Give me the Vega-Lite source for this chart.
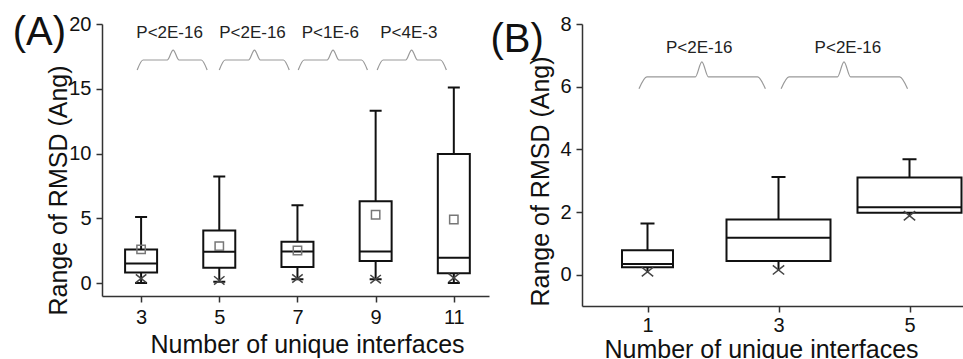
{
  "$schema": "https://vega.github.io/schema/vega-lite/v6.json",
  "padding": {"left": 12, "top": 12, "right": 0, "bottom": 0},
  "bounds": "flush",
  "spacing": 93,
  "background": "white",
  "config": {
    "font": "Liberation Sans",
    "view": {"stroke": null},
    "axis": {
      "grid": false, "domainColor": "#333", "domainWidth": 1.5, "tickColor": "#333", "tickWidth": 1.5,
      "tickSize": 6, "labelFontSize": 20, "labelColor": "#111", "titleFontSize": 25,
      "titleFontWeight": "normal", "titleColor": "#111", "labelFont": "Liberation Sans", "titleFont": "Liberation Sans"
    }
  },
  "datasets": {
    "boxA": [
      {"n": 3, "lo": 0.0, "q1": 0.82, "med": 1.51, "q3": 2.59, "hi": 5.1, "mean": 2.6, "p1": 0.35},
      {"n": 5, "lo": 0.1, "q1": 1.18, "med": 2.41, "q3": 4.05, "hi": 8.23, "mean": 2.85, "p1": 0.2},
      {"n": 7, "lo": 0.3, "q1": 1.23, "med": 2.44, "q3": 3.18, "hi": 6.0, "mean": 2.51, "p1": 0.35},
      {"n": 9, "lo": 0.3, "q1": 1.7, "med": 2.44, "q3": 6.32, "hi": 13.3, "mean": 5.27, "p1": 0.3},
      {"n": 11, "lo": 0.0, "q1": 0.75, "med": 1.96, "q3": 9.97, "hi": 15.1, "mean": 4.91, "p1": 0.4}
    ],
    "boxB": [
      {"n": 1, "lo": 0.09, "q1": 0.24, "med": 0.34, "q3": 0.78, "hi": 1.63, "p1": 0.09},
      {"n": 3, "lo": 0.15, "q1": 0.44, "med": 1.18, "q3": 1.76, "hi": 3.12, "p1": 0.15},
      {"n": 5, "lo": 1.87, "q1": 1.98, "med": 2.15, "q3": 3.1, "hi": 3.68, "p1": 1.88}
    ],
    "braceA": [
      {"b": 1, "o": 1, "x": 2.90, "y": 16.45}, {"b": 1, "o": 2, "x": 3.05, "y": 17.22}, {"b": 1, "o": 3, "x": 3.67, "y": 17.22}, {"b": 1, "o": 4, "x": 3.82, "y": 17.99}, {"b": 1, "o": 5, "x": 3.97, "y": 17.22}, {"b": 1, "o": 6, "x": 4.54, "y": 17.22}, {"b": 1, "o": 7, "x": 4.69, "y": 16.45},
      {"b": 2, "o": 1, "x": 5.00, "y": 16.45}, {"b": 2, "o": 2, "x": 5.15, "y": 17.22}, {"b": 2, "o": 3, "x": 5.75, "y": 17.22}, {"b": 2, "o": 4, "x": 5.90, "y": 17.99}, {"b": 2, "o": 5, "x": 6.05, "y": 17.22}, {"b": 2, "o": 6, "x": 6.64, "y": 17.22}, {"b": 2, "o": 7, "x": 6.79, "y": 16.45},
      {"b": 3, "o": 1, "x": 7.02, "y": 16.45}, {"b": 3, "o": 2, "x": 7.17, "y": 17.22}, {"b": 3, "o": 3, "x": 7.76, "y": 17.22}, {"b": 3, "o": 4, "x": 7.91, "y": 17.99}, {"b": 3, "o": 5, "x": 8.06, "y": 17.22}, {"b": 3, "o": 6, "x": 8.64, "y": 17.22}, {"b": 3, "o": 7, "x": 8.79, "y": 16.45},
      {"b": 4, "o": 1, "x": 9.04, "y": 16.45}, {"b": 4, "o": 2, "x": 9.19, "y": 17.22}, {"b": 4, "o": 3, "x": 9.77, "y": 17.22}, {"b": 4, "o": 4, "x": 9.92, "y": 17.99}, {"b": 4, "o": 5, "x": 10.07, "y": 17.22}, {"b": 4, "o": 6, "x": 10.66, "y": 17.22}, {"b": 4, "o": 7, "x": 10.81, "y": 16.45}
    ],
    "braceB": [
      {"b": 1, "o": 1, "x": 0.87, "y": 5.93}, {"b": 1, "o": 2, "x": 0.99, "y": 6.31}, {"b": 1, "o": 3, "x": 1.73, "y": 6.31}, {"b": 1, "o": 4, "x": 1.83, "y": 6.79}, {"b": 1, "o": 5, "x": 1.93, "y": 6.31}, {"b": 1, "o": 6, "x": 2.68, "y": 6.31}, {"b": 1, "o": 7, "x": 2.80, "y": 5.93},
      {"b": 2, "o": 1, "x": 3.04, "y": 5.93}, {"b": 2, "o": 2, "x": 3.16, "y": 6.31}, {"b": 2, "o": 3, "x": 3.90, "y": 6.31}, {"b": 2, "o": 4, "x": 4.00, "y": 6.79}, {"b": 2, "o": 5, "x": 4.10, "y": 6.31}, {"b": 2, "o": 6, "x": 4.85, "y": 6.31}, {"b": 2, "o": 7, "x": 4.97, "y": 5.93}
    ],
    "notesA": [
      {"t": "P<2E-16", "x": 3.73, "y": 19.28},
      {"t": "P<2E-16", "x": 5.85, "y": 19.28},
      {"t": "P<1E-6", "x": 7.84, "y": 19.28},
      {"t": "P<4E-3", "x": 9.85, "y": 19.28}
    ],
    "notesB": [
      {"t": "P<2E-16", "x": 1.79, "y": 7.22},
      {"t": "P<2E-16", "x": 4.06, "y": 7.22}
    ],
    "panelA": [{"t": "(A)", "x": 0.40, "y": 19.34}],
    "panelB": [{"t": "(B)", "x": -0.99, "y": 7.49}]
  },
  "hconcat": [
    {
      "width": 387, "height": 272,
      "layer": [
        {
          "data": {"name": "boxA"},
          "mark": {"type": "rule", "strokeWidth": 2, "color": "#111"},
          "encoding": {
            "x": {"field": "n", "type": "quantitative",
              "scale": {"domain": [2, 11.9], "nice": false, "zero": false, "padding": 0},
              "axis": {"values": [3, 5, 7, 9, 11], "format": "d", "title": "Number of unique interfaces", "labelPadding": 5, "titleX": 205, "titleY": 56, "titleBaseline": "alphabetic", "labelFlush": false}},
            "y": {"field": "lo", "type": "quantitative",
              "scale": {"domain": [-1, 20], "nice": false, "zero": false},
              "axis": {"values": [0, 2.5, 5, 7.5, 10, 12.5, 15, 17.5, 20], "labelExpr": "datum.value % 5 == 0 ? datum.label : ''",
                "tickSize": {"condition": {"test": "datum.value % 5 != 0", "value": 3}, "value": 6},
                "labelPadding": 5, "title": "Range of RMSD (Ang)", "titleX": -31, "titleY": 166, "titleBaseline": "bottom"}},
            "y2": {"field": "hi"}
          }
        },
        {
          "data": {"name": "boxA"},
          "mark": {"type": "bar", "size": 32, "fill": "white", "stroke": "#111", "strokeWidth": 2},
          "encoding": {"x": {"field": "n", "type": "quantitative"}, "y": {"field": "q1", "type": "quantitative"}, "y2": {"field": "q3"}}
        },
        {
          "data": {"name": "boxA"},
          "mark": {"type": "bar", "size": 32, "fill": "white", "stroke": "#111", "strokeWidth": 2},
          "encoding": {"x": {"field": "n", "type": "quantitative"}, "y": {"field": "med", "type": "quantitative"}, "y2": {"field": "med"}}
        },
        {
          "data": {"name": "boxA"},
          "mark": {"type": "bar", "size": 12, "fill": "white", "stroke": "#111", "strokeWidth": 2},
          "encoding": {"x": {"field": "n", "type": "quantitative"}, "y": {"field": "hi", "type": "quantitative"}, "y2": {"field": "hi"}}
        },
        {
          "data": {"name": "boxA"},
          "mark": {"type": "bar", "size": 12, "fill": "white", "stroke": "#111", "strokeWidth": 2},
          "encoding": {"x": {"field": "n", "type": "quantitative"}, "y": {"field": "lo", "type": "quantitative"}, "y2": {"field": "lo"}}
        },
        {
          "data": {"name": "boxA"},
          "mark": {"type": "point", "shape": "square", "size": 70, "filled": false, "stroke": "#777", "strokeWidth": 1.5, "opacity": 1},
          "encoding": {"x": {"field": "n", "type": "quantitative"}, "y": {"field": "mean", "type": "quantitative"}}
        },
        {
          "data": {"name": "boxA"},
          "mark": {"type": "point", "shape": "M-1,-0.8L1,0.8M-1,0.8L1,-0.8", "size": 110, "filled": false, "stroke": "#444", "strokeWidth": 1.5, "opacity": 1},
          "encoding": {"x": {"field": "n", "type": "quantitative"}, "y": {"field": "p1", "type": "quantitative"}}
        },
        {
          "data": {"name": "braceA"},
          "mark": {"type": "line", "interpolate": "monotone", "color": "#999", "strokeWidth": 1.2},
          "encoding": {"x": {"field": "x", "type": "quantitative"}, "y": {"field": "y", "type": "quantitative"}, "detail": {"field": "b"}, "order": {"field": "o"}}
        },
        {
          "data": {"name": "notesA"},
          "mark": {"type": "text", "fontSize": 17, "color": "#222", "baseline": "middle", "align": "center"},
          "encoding": {"x": {"field": "x", "type": "quantitative"}, "y": {"field": "y", "type": "quantitative"}, "text": {"field": "t"}}
        },
        {
          "data": {"name": "panelA"},
          "mark": {"type": "text", "fontSize": 40, "color": "#111", "baseline": "middle", "align": "center"},
          "encoding": {"x": {"field": "x", "type": "quantitative"}, "y": {"field": "y", "type": "quantitative"}, "text": {"field": "t"}}
        }
      ]
    },
    {
      "width": 393, "height": 282,
      "layer": [
        {
          "data": {"name": "boxB"},
          "mark": {"type": "rule", "strokeWidth": 2, "color": "#111"},
          "encoding": {
            "x": {"field": "n", "type": "quantitative",
              "scale": {"domain": [0, 6], "nice": false, "zero": false, "padding": 0},
              "axis": {"values": [1, 3, 5], "format": "d", "title": "Number of unique interfaces", "labelPadding": 3, "titleX": 179, "titleY": 51, "titleBaseline": "alphabetic", "labelFlush": false}},
            "y": {"field": "lo", "type": "quantitative",
              "scale": {"domain": [-1, 8], "nice": false, "zero": false},
              "axis": {"values": [0, 1, 2, 3, 4, 5, 6, 7, 8], "labelExpr": "datum.value % 2 == 0 ? datum.label : ''",
                "tickSize": {"condition": {"test": "datum.value % 2 != 0", "value": 3}, "value": 6},
                "labelPadding": 5, "title": "Range of RMSD (Ang)", "titleX": -29, "titleY": 157, "titleBaseline": "bottom"}},
            "y2": {"field": "hi"}
          }
        },
        {
          "data": {"name": "boxB"},
          "transform": [{"filter": "datum.n == 1"}],
          "mark": {"type": "bar", "size": 51, "fill": "white", "stroke": "#111", "strokeWidth": 2},
          "encoding": {"x": {"field": "n", "type": "quantitative"}, "y": {"field": "q1", "type": "quantitative"}, "y2": {"field": "q3"}}
        },
        {
          "data": {"name": "boxB"},
          "transform": [{"filter": "datum.n != 1"}],
          "mark": {"type": "bar", "size": 104, "fill": "white", "stroke": "#111", "strokeWidth": 2},
          "encoding": {"x": {"field": "n", "type": "quantitative"}, "y": {"field": "q1", "type": "quantitative"}, "y2": {"field": "q3"}}
        },
        {
          "data": {"name": "boxB"},
          "transform": [{"filter": "datum.n == 1"}],
          "mark": {"type": "bar", "size": 51, "fill": "white", "stroke": "#111", "strokeWidth": 2},
          "encoding": {"x": {"field": "n", "type": "quantitative"}, "y": {"field": "med", "type": "quantitative"}, "y2": {"field": "med"}}
        },
        {
          "data": {"name": "boxB"},
          "transform": [{"filter": "datum.n != 1"}],
          "mark": {"type": "bar", "size": 104, "fill": "white", "stroke": "#111", "strokeWidth": 2},
          "encoding": {"x": {"field": "n", "type": "quantitative"}, "y": {"field": "med", "type": "quantitative"}, "y2": {"field": "med"}}
        },
        {
          "data": {"name": "boxB"},
          "mark": {"type": "bar", "size": 14, "fill": "white", "stroke": "#111", "strokeWidth": 2},
          "encoding": {"x": {"field": "n", "type": "quantitative"}, "y": {"field": "hi", "type": "quantitative"}, "y2": {"field": "hi"}}
        },
        {
          "data": {"name": "boxB"},
          "mark": {"type": "point", "shape": "M-1,-0.8L1,0.8M-1,0.8L1,-0.8", "size": 130, "filled": false, "stroke": "#444", "strokeWidth": 1.5, "opacity": 1},
          "encoding": {"x": {"field": "n", "type": "quantitative"}, "y": {"field": "p1", "type": "quantitative"}}
        },
        {
          "data": {"name": "braceB"},
          "mark": {"type": "line", "interpolate": "monotone", "color": "#999", "strokeWidth": 1.2},
          "encoding": {"x": {"field": "x", "type": "quantitative"}, "y": {"field": "y", "type": "quantitative"}, "detail": {"field": "b"}, "order": {"field": "o"}}
        },
        {
          "data": {"name": "notesB"},
          "mark": {"type": "text", "fontSize": 17, "color": "#222", "baseline": "middle", "align": "center"},
          "encoding": {"x": {"field": "x", "type": "quantitative"}, "y": {"field": "y", "type": "quantitative"}, "text": {"field": "t"}}
        },
        {
          "data": {"name": "panelB"},
          "mark": {"type": "text", "fontSize": 40, "color": "#111", "baseline": "middle", "align": "center"},
          "encoding": {"x": {"field": "x", "type": "quantitative"}, "y": {"field": "y", "type": "quantitative"}, "text": {"field": "t"}}
        }
      ]
    }
  ]
}
